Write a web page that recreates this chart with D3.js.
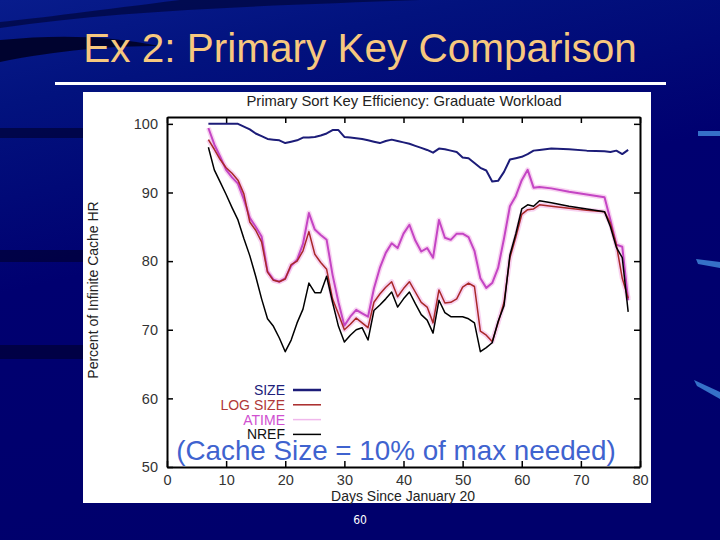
<!DOCTYPE html>
<html>
<head>
<meta charset="utf-8">
<script src="https://cdn.jsdelivr.net/npm/d3@7"></script>
<style>
  html, body { margin: 0; padding: 0; background: #000070; }
  svg { display: block; }
</style>
</head>
<body>
<div id="slide"></div>
<script>
// data
var days = [7,8,9,10,11,12,13,14,15,16,17,18,19,20,21,22,23,24,25,26,27,28,29,30,31,32,33,34,35,36,37,38,39,40,41,42,43,44,45,46,47,48,49,50,51,52,53,54,55,56,57,58,59,60,61,62,63,65,68,71,74,75,76,77,78];

var sizeHR = [100,100,100,100,100,100,99.6,99.2,98.6,98.2,
  97.8,97.7,97.6,97.2,97.4,97.6,98.0,98.0,98.1,98.3,
  98.6,99.1,99.1,98.1,98.0,97.9,97.8,97.6,97.4,97.2,
  97.5,97.7,97.5,97.3,97.1,96.8,96.5,96.2,95.8,96.4,
  96.3,96.1,95.9,95.1,95.0,94.3,93.6,93.2,91.6,91.7,
  93.0,94.8,95.0,95.2,95.6,96.1,96.2,
  96.4,96.3,96.1,96.0,95.9,96.1,95.6,96.2];

var logSizeHR = [97.7,96.3,94.8,93.6,92.8,91.8,89.8,85.7,84.5,82.8,
  78.4,77.2,77.0,77.4,79.5,80.0,81.5,84.3,81.0,79.8,
  78.8,74.5,72.3,70.0,70.8,71.7,71.0,70.3,74.0,75.2,
  76.2,77.0,74.8,76.0,77.0,75.5,74.0,73.3,71.0,75.8,
  73.9,74.0,74.5,76.2,76.8,76.3,69.8,69.2,68.3,71.0,
  74.0,80.5,83.5,86.8,87.5,87.6,88.2,
  88.0,87.7,87.4,87.2,85.5,82.4,77.5,74.6];

var atimeHR = [99.4,97.0,95.2,93.3,92.2,91.3,89.0,86.3,85.0,83.6,
  78.5,77.3,77.0,77.5,79.3,80.2,82.5,87.0,84.6,83.8,
  83.1,78.0,74.0,70.6,71.9,72.9,72.4,71.9,76.0,79.0,
  81.2,82.6,81.9,84.0,85.3,83.0,81.4,81.9,80.5,86.0,
  83.4,83.1,84.0,84.0,83.5,81.5,77.5,76.1,76.8,79.0,
  83.3,88.0,89.5,91.8,93.3,90.7,90.8,
  90.6,90.1,89.7,89.3,86.0,82.4,82.1,74.3];

var nrefHR = [96.6,93.3,91.5,89.7,87.8,86.0,83.3,80.8,77.8,74.5,
  71.6,70.5,68.8,66.8,68.5,71.0,73.0,76.8,75.4,75.4,
  77.8,74.0,70.5,68.2,69.2,70.0,70.3,68.5,72.8,73.6,
  74.5,75.5,73.3,74.5,75.5,73.8,72.2,71.4,69.5,74.3,
  72.5,71.9,71.9,71.9,71.6,71.0,66.8,67.4,68.1,71.2,
  73.5,80.9,84.0,87.6,88.2,88.0,88.8,
  88.5,88.0,87.6,87.2,85.0,82.0,80.5,72.6];

var seriesNames = ['SIZE', 'LOG SIZE', 'ATIME', 'NREF'];
var xTicks = [0,10,20,30,40,50,60,70,80];
var yTicks = [50,60,70,80,90,100];

var W = 720, H = 540;
var svg = d3.select('#slide').append('svg')
    .attr('width', W)
    .attr('height', H);

// slide background
var defs = svg.append('defs');
var bg = defs.append('linearGradient').attr('id', 'bg')
    .attr('x1', 0).attr('y1', 0).attr('x2', 0.3).attr('y2', 1);
bg.append('stop').attr('offset', '0%').attr('stop-color', '#081c8c');
bg.append('stop').attr('offset', '18%').attr('stop-color', '#02127e');
bg.append('stop').attr('offset', '50%').attr('stop-color', '#000070');
bg.append('stop').attr('offset', '100%').attr('stop-color', '#00006c');
svg.append('rect').attr('width', W).attr('height', H).attr('fill', 'url(#bg)');

// dark swooshes on the left
svg.append('path')
    .attr('d', 'M0,28 C120,10 260,6 420,0 L180,0 C100,10 40,18 0,22 Z')
    .attr('fill', '#00063a').attr('opacity', 0.7);
svg.append('path')
    .attr('d', 'M0,40 C60,34 110,36 160,46 C110,46 60,50 0,62 Z')
    .attr('fill', '#000020').attr('opacity', 0.85);
[[128, 10], [250, 12], [345, 14]].forEach(function(s) {
    svg.append('rect').attr('x', 0).attr('y', s[0]).attr('width', 84).attr('height', s[1])
        .attr('fill', '#00002a').attr('opacity', 0.6);
});
// light streaks on the right
svg.append('rect').attr('x', 698).attr('y', 131).attr('width', 22).attr('height', 5).attr('fill', '#3570c8');
svg.append('path').attr('d', 'M696,259 L720,262 L720,268 L698,264 Z').attr('fill', '#3570c8');
svg.append('path').attr('d', 'M694,380 L720,392 L720,399 L697,386 Z').attr('fill', '#3570c8');

// slide title
svg.append('text')
    .text('Ex 2: Primary Key Comparison')
    .attr('x', 360).attr('y', 62)
    .attr('text-anchor', 'middle')
    .style('font-family', '"Liberation Sans", Arial, sans-serif')
    .style('font-size', '40.5px')
    .style('fill', '#f7c87e');

svg.append('rect').attr('x', 55).attr('y', 82).attr('width', 611).attr('height', 3).attr('fill', '#ffffff');

// white chart panel
svg.append('rect').attr('x', 83).attr('y', 92).attr('width', 568).attr('height', 411).attr('fill', '#ffffff');

var x = d3.scaleLinear().domain([0, 80]).range([167, 640]);
var y = d3.scaleLinear().domain([50, 101]).range([467, 117]);

var font = '"Liberation Sans", Arial, sans-serif';

// axes, ticks inward, gnuplot style
var gL = svg.append('g').attr('transform', 'translate(' + x(0) + ',0)')
    .call(d3.axisLeft(y).tickValues(yTicks).tickSizeInner(-6).tickSizeOuter(0).tickPadding(9));
var gB = svg.append('g').attr('transform', 'translate(0,' + y(50) + ')')
    .call(d3.axisBottom(x).tickValues(xTicks).tickSizeInner(-6).tickSizeOuter(0).tickPadding(8));
var gR = svg.append('g').attr('transform', 'translate(' + x(80) + ',0)')
    .call(d3.axisRight(y).tickValues(yTicks).tickSizeInner(-6).tickSizeOuter(0).tickFormat(''));
var gT = svg.append('g').attr('transform', 'translate(0,' + y(101) + ')')
    .call(d3.axisTop(x).tickValues(xTicks).tickSizeInner(-6).tickSizeOuter(0).tickFormat(''));

[gL, gB, gR, gT].forEach(function(g) {
    g.select('.domain').attr('stroke', '#000').attr('stroke-width', 2);
    g.selectAll('.tick line').attr('stroke', '#000').attr('stroke-width', 1.5);
    g.selectAll('.tick text')
        .style('font-family', font)
        .style('font-size', '14.5px')
        .attr('fill', '#333');
});

// titles
svg.append('text')
    .text('Primary Sort Key Efficiency: Graduate Workload')
    .attr('x', 404).attr('y', 106)
    .attr('text-anchor', 'middle')
    .style('font-family', font).style('font-size', '14.8px').style('fill', '#222');

svg.append('text')
    .text('Days Since January 20')
    .attr('x', 403).attr('y', 501)
    .attr('text-anchor', 'middle')
    .style('font-family', font).style('font-size', '14px').style('fill', '#222');

svg.append('text')
    .text('Percent of Infinite Cache HR')
    .attr('transform', 'translate(98,290) rotate(-90)')
    .attr('text-anchor', 'middle')
    .style('font-family', font).style('font-size', '14px').style('fill', '#222');

// lines
var colors = ['#1c1c78', '#a82828', '#c445c4', '#000000'];
var widths = [2, 1.5, 2, 1.5];
var values = [sizeHR, logSizeHR, atimeHR, nrefHR];

var line = d3.line()
    .x(function(d, i) { return x(days[i]); })
    .y(function(d) { return y(d); });

// pale halo around the reddish and pink lines
[1, 2].forEach(function(k) {
    svg.append('path')
        .datum(values[k])
        .attr('d', line)
        .attr('fill', 'none')
        .attr('stroke', '#f6c8ee')
        .attr('stroke-width', 5)
        .attr('stroke-linejoin', 'round')
        .attr('opacity', 0.8);
});

var drawOrder = [2, 1, 3, 0];
drawOrder.forEach(function(k) {
    svg.append('path')
        .datum(values[k])
        .attr('d', line)
        .attr('fill', 'none')
        .attr('stroke', colors[k])
        .attr('stroke-width', widths[k])
        .attr('stroke-linejoin', 'round');
});

// legend
var legendText = ['#20207a', '#b03838', '#d050d0', '#111111'];
seriesNames.forEach(function(name, i) {
    var by = 395 + i * 14.8;
    svg.append('text')
        .text(name)
        .attr('x', 285).attr('y', by)
        .attr('text-anchor', 'end')
        .style('font-family', font).style('font-size', '14px')
        .style('fill', legendText[i]);
    svg.append('line')
        .attr('x1', 293).attr('x2', 321)
        .attr('y1', by - 5).attr('y2', by - 5)
        .attr('stroke', i == 2 ? '#f0b8ec' : colors[i])
        .attr('stroke-width', i == 0 ? 2.5 : 1.5);
});

// overlay note
svg.append('text')
    .text('(Cache Size = 10% of max needed)')
    .attr('x', 396).attr('y', 460)
    .attr('text-anchor', 'middle')
    .style('font-family', font).style('font-size', '27.8px')
    .style('fill', '#3f63cf');

// page number
svg.append('text')
    .text('60')
    .attr('x', 360).attr('y', 524)
    .attr('text-anchor', 'middle')
    .style('font-family', '"DejaVu Sans Condensed", "Liberation Sans Narrow", sans-serif')
    .style('font-size', '12px')
    .style('fill', '#ffffff');
</script>
</body>
</html>
